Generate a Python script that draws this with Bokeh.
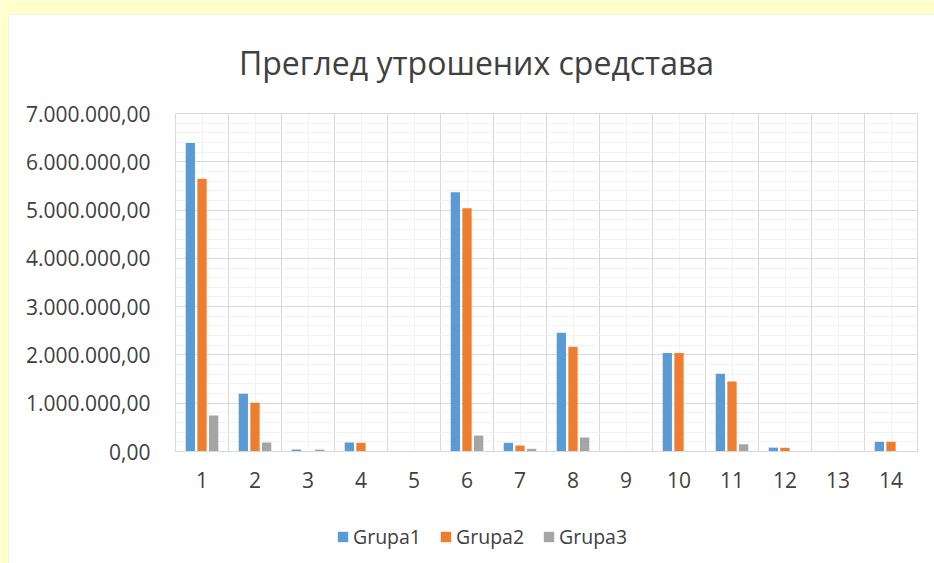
from bokeh.plotting import figure
from bokeh.models import (FixedTicker, SingleIntervalTicker, CustomJSTickFormatter, Label,
                          Legend, LegendItem, Range1d, ColumnDataSource, LinearAxis, Grid,
                          BoxAnnotation)
from bokeh.transform import dodge
from bokeh.embed import file_html
from bokeh.resources import INLINE

# ---- data ----
categories = ["1", "2", "3", "4", "5", "6", "7", "8", "9", "10", "11", "12", "13", "14"]
positions = [1, 2, 3, 4, 5, 6, 7, 8, 9, 10, 11, 12, 13, 14]
grupa1 = [6390000, 1195000, 40000, 186000, 0, 5370000, 180000, 2460000, 0, 2040000, 1610000, 80000, 0, 200000]
grupa2 = [5650000, 1010000, 0, 180000, 0, 5040000, 124000, 2170000, 0, 2040000, 1450000, 77000, 0, 200000]
grupa3 = [745000, 186000, 40000, 0, 0, 330000, 55000, 290000, 0, 0, 150000, 0, 0, 0]
series_names = ["Grupa1", "Grupa2", "Grupa3"]
colors = ["#5B9BD5", "#ED7D31", "#A5A5A5"]
title_text = "Преглед утрошених средстава"
y_max = 7000000
y_step = 1000000

FONT = "Open Sans"
TXT = "#404040"

# ---- layout geometry (pixels) ----
W, H = 934, 563
PX_LEFT, PX_RIGHT, PX_TOP, PX_ZERO = 175, 917, 113, 451
n = len(positions)
cat_px = (PX_RIGHT - PX_LEFT) / n
val_px = (PX_ZERO - PX_TOP) / y_max
x0 = 0.5 - PX_LEFT / cat_px
x1 = 0.5 + (W - PX_LEFT) / cat_px
y1 = PX_ZERO / val_px
y0 = -(H - PX_ZERO) / val_px

src = ColumnDataSource(dict(x=positions, g1=grupa1, g2=grupa2, g3=grupa3))

p = figure(width=W, height=H, output_backend="svg", toolbar_location=None,
           x_range=Range1d(x0, x1), y_range=Range1d(y0, y1),
           x_axis_location=None, y_axis_location=None, min_border=0)
# drop the default full-extent grids
p.center = [r for r in p.center if not isinstance(r, Grid)]
p.background_fill_color = "#FFFFCC"
p.border_fill_color = "#FFFFCC"
p.outline_line_color = None

# white chart area with light border (extends past right/bottom edges)
p.add_layout(BoxAnnotation(left=8, left_units="screen", top=(PX_ZERO - 14) / val_px,
                           right=x1 + 1, bottom=y0 - y_step,
                           fill_color="white", fill_alpha=1.0, line_color="#D9D9D9",
                           line_width=1, level="image"))

# grids
x_major = [i + 0.5 for i in range(0, n + 1)]
y_major = list(range(0, y_max + 1, y_step))
y_minor = list(range(0, y_max + 1, y_step // 5))
has_cross = "cross_bounds" in Grid.properties()

if has_cross:
    xgrid = Grid(dimension=0, ticker=FixedTicker(ticks=x_major, minor_ticks=positions),
                 grid_line_color="#D9D9D9", minor_grid_line_color="#F2F2F2")
    ygrid = Grid(dimension=1, ticker=FixedTicker(ticks=y_major, minor_ticks=y_minor),
                 grid_line_color="#D9D9D9", minor_grid_line_color="#F2F2F2")
    xgrid.cross_bounds = (0, y_max)
    ygrid.cross_bounds = (0.5, n + 0.5)
    p.add_layout(xgrid)
    p.add_layout(ygrid)
else:
    p.segment(x0=0.5, x1=n + 0.5, y0=y_minor, y1=y_minor, line_color="#F2F2F2", level="underlay")
    p.segment(x0=positions, x1=positions, y0=0, y1=y_max, line_color="#F2F2F2", level="underlay")
    p.segment(x0=0.5, x1=n + 0.5, y0=y_major, y1=y_major, line_color="#D9D9D9", level="underlay")
    p.segment(x0=x_major, x1=x_major, y0=0, y1=y_max, line_color="#D9D9D9", level="underlay")

renderers = []
for col, off, c in zip(["g1", "g2", "g3"], [-0.22, 0.0, 0.22], colors):
    r = p.vbar(x=dodge("x", off, range=p.x_range), top=col, width=0.175, bottom=0,
               source=src, fill_color=c, line_color=None)
    renderers.append(r)

# axes
xaxis = LinearAxis(fixed_location=0, bounds=(0.5, n + 0.5), ticker=FixedTicker(ticks=positions))
xaxis.major_label_overrides = {pos: lab for pos, lab in zip(positions, categories)}
xaxis.axis_line_color = "#D9D9D9"
xaxis.major_tick_line_color = None
xaxis.minor_tick_line_color = None
xaxis.major_label_standoff = 14
xaxis.major_label_text_font = FONT
xaxis.major_label_text_font_size = "21px"
xaxis.major_label_text_color = TXT
p.add_layout(xaxis, "below")

yaxis = LinearAxis(fixed_location=0.5, bounds=(0, y_max), ticker=SingleIntervalTicker(interval=y_step))
yaxis.formatter = CustomJSTickFormatter(code="""
const s = tick.toFixed(2);
const parts = s.split('.');
return parts[0].replace(/\\B(?=(\\d{3})+(?!\\d))/g, '.') + ',' + parts[1];
""")
yaxis.axis_line_color = None
yaxis.major_tick_line_color = None
yaxis.minor_tick_line_color = None
yaxis.major_label_standoff = 19
yaxis.major_label_text_font = FONT
yaxis.major_label_text_font_size = "21px"
yaxis.major_label_text_color = TXT
p.add_layout(yaxis, "left")

# title
p.add_layout(Label(x=0.5 + (476 - PX_LEFT) / cat_px, y=(PX_ZERO - 62) / val_px, text=title_text,
                   text_align="center", text_baseline="middle", text_font=FONT,
                   text_font_size="32px", text_color=TXT))

# legend
legend = Legend(items=[LegendItem(label=nm, renderers=[r]) for nm, r in zip(series_names, renderers)],
                orientation="horizontal", location=(336, 13))
legend.glyph_width = 13
legend.glyph_height = 13
legend.label_standoff = 4
legend.spacing = 18
legend.padding = 0
legend.margin = 0
legend.border_line_color = None
legend.background_fill_alpha = 0
legend.label_text_font = FONT
legend.label_text_font_size = "19.5px"
legend.label_text_color = TXT
p.add_layout(legend)

open("out.html", "w").write(file_html(p, INLINE))
